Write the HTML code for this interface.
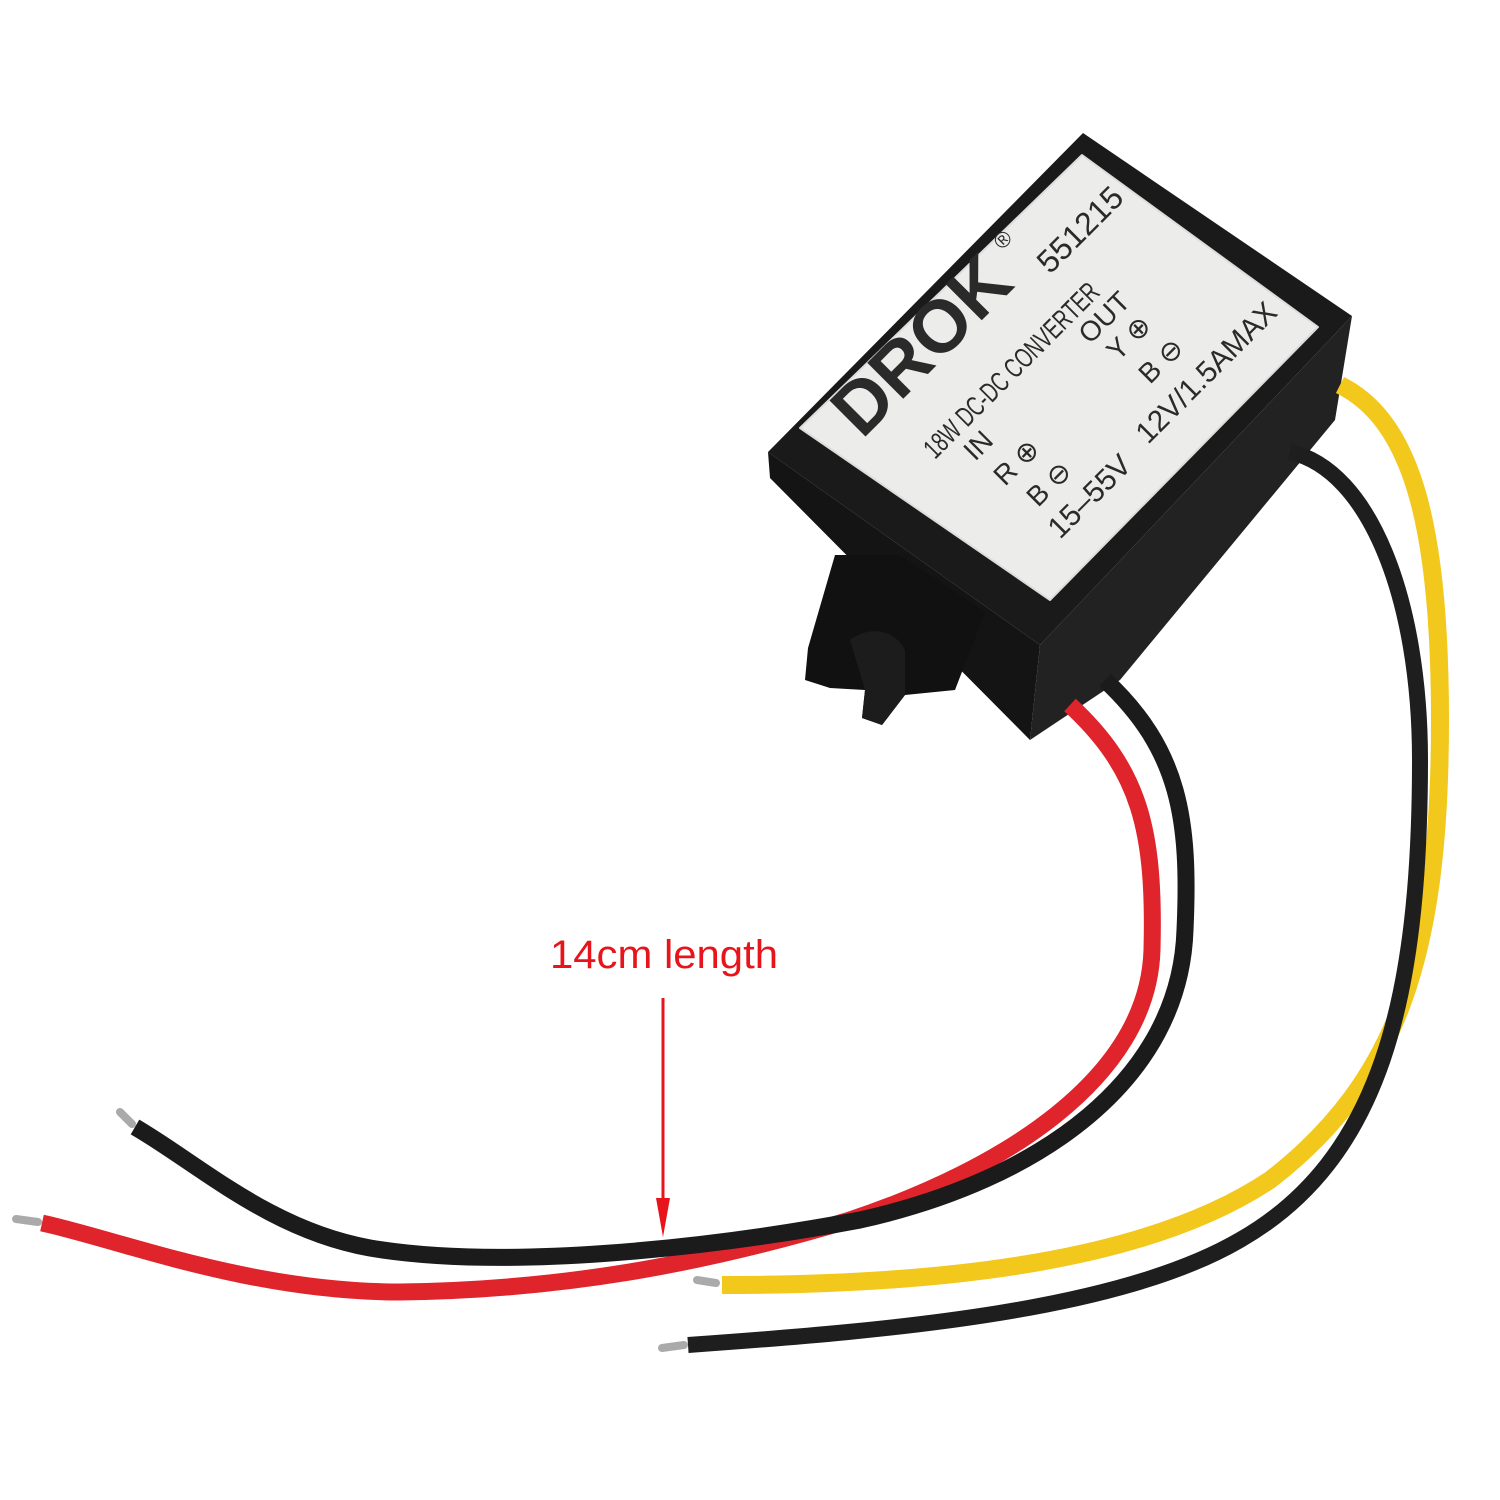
<!DOCTYPE html>
<html><head><style>
html,body{margin:0;padding:0;background:#fff;}
svg{display:block}
</style></head><body>
<svg width="1500" height="1500" viewBox="0 0 1500 1500" xmlns="http://www.w3.org/2000/svg">
<rect width="1500" height="1500" fill="#fff"/>
<!-- box -->
<polygon points="768,452 1083,133 1352,316 1040,645" fill="#1a1a1a"/>
<polygon points="768,452 1040,645 1030,740 770,478" fill="#141414"/>
<polygon points="1040,645 1352,316 1335,420 1120,680 1030,740" fill="#222"/>
<!-- mounting tab -->
<path d="M835,555 L900,555 L985,612 L955,690 L905,695 L882,725 L862,718 L865,690 L830,688 L805,680 L808,648 Z" fill="#111"/>
<path d="M850,640 C870,625 895,630 905,650 L905,695 L882,725 L862,718 L865,690 Z" fill="#1c1c1c"/>
<!-- label -->
<polygon points="800,428 1082,155 1318,327 1050,600" fill="#ececea" stroke="#ddd" stroke-width="2" stroke-linejoin="round"/>
<g font-family="'Liberation Sans',sans-serif" fill="#2a2a2a">
<text transform="translate(862,440) rotate(-45)" font-size="74" font-weight="bold">DROK</text>
<text transform="translate(1008,245) rotate(-45)" font-size="22" text-anchor="middle">®</text>
<text transform="translate(1050,275) rotate(-45)" font-size="32">551215</text>
<text transform="translate(935,460) rotate(-45)" font-size="28" textLength="235" lengthAdjust="spacingAndGlyphs">18W DC-DC CONVERTER</text>
<text transform="translate(1090,345) rotate(-45)" font-size="28">OUT</text>
<text transform="translate(975,462) rotate(-45)" font-size="28">IN</text>
<text transform="translate(1005,487) rotate(-45)" font-size="28">R ⊕</text>
<text transform="translate(1118,362) rotate(-45)" font-size="28">Y ⊕</text>
<text transform="translate(1038,508) rotate(-45)" font-size="28">B ⊖</text>
<text transform="translate(1150,385) rotate(-45)" font-size="28">B ⊖</text>
<text transform="translate(1060,540) rotate(-45)" font-size="30">15–55V</text>
<text transform="translate(1148,445) rotate(-45)" font-size="30" textLength="185" lengthAdjust="spacingAndGlyphs">12V/1.5AMAX</text>
</g>
<!-- wires -->
<g fill="none" stroke-linecap="butt">
<path d="M1340,385 C1410,420 1440,520 1440,720 C1440,950 1400,1080 1270,1180 C1150,1260 950,1285 722,1285" stroke="#f2c81c" stroke-width="18"/>
<path d="M1290,452 C1370,470 1420,600 1420,760 C1420,1000 1380,1160 1240,1240 C1120,1310 900,1330 688,1345" stroke="#1e1e1e" stroke-width="16"/>
<path d="M1070,705 C1140,770 1155,830 1152,950 C1148,1080 1000,1170 850,1220 C700,1265 560,1290 400,1292 C250,1292 120,1240 42,1223" stroke="#e0242c" stroke-width="17"/>
<path d="M1105,680 C1180,750 1190,820 1185,930 C1180,1080 1040,1180 860,1220 C700,1250 500,1270 370,1248 C270,1230 200,1165 135,1127" stroke="#1b1b1b" stroke-width="17"/>
</g>
<!-- wire tips -->
<g stroke="#aaa" stroke-width="8" stroke-linecap="round">
<line x1="16" y1="1219" x2="38" y2="1222"/>
<line x1="120" y1="1112" x2="132" y2="1124"/>
<line x1="697" y1="1280" x2="716" y2="1283"/>
<line x1="662" y1="1348" x2="684" y2="1345"/>
</g>
<!-- annotation -->
<text x="550" y="968" font-family="'Liberation Sans',sans-serif" font-size="40" fill="#e8141b" textLength="228" lengthAdjust="spacingAndGlyphs">14cm length</text>
<line x1="663" y1="998" x2="663" y2="1205" stroke="#e8141b" stroke-width="3"/>
<polygon points="656,1198 670,1198 663,1237" fill="#e8141b"/>
</svg>
</body></html>
